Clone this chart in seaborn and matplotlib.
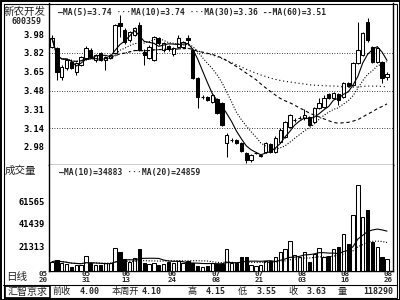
import numpy as np
import pandas as pd
import matplotlib
matplotlib.use("Agg")
import matplotlib.pyplot as plt
from matplotlib.lines import Line2D
from matplotlib.patches import Rectangle
import seaborn as sns

# ---------------- data ----------------
opens = [3.87, 3.86, 3.605, 3.68, 3.74, 3.65, 3.71, 3.77, 3.845, 3.755,
         3.815, 3.755, 3.77, 3.82, 4.09, 4.025, 3.935, 3.98, 4.07, 3.83,
         3.77, 3.755, 3.95, 3.845, 3.884, 3.806, 3.875, 3.875, 3.955, 3.845,
         3.593, 3.42, 3.42, 3.38, 3.40, 3.37, 3.01, 3.035, 3.035, 3.01,
         2.92, 2.855, 2.92, 2.89, 2.927, 3.00, 2.93, 3.017, 3.062, 3.152,
         3.215, 3.233, 3.233, 3.242, 3.197, 3.323, 3.332, 3.449, 3.413, 3.449,
         3.422, 3.548, 3.53, 3.728, 3.80, 4.097, 3.872, 3.737, 3.737, 3.60]
closes = [3.95, 3.65, 3.695, 3.755, 3.68, 3.725, 3.785, 3.86, 3.785, 3.80,
          3.755, 3.785, 3.80, 4.07, 4.06, 3.917, 4.01, 4.04, 3.845, 3.80,
          3.875, 3.965, 3.905, 3.905, 3.854, 3.86, 3.95, 3.92, 3.935, 3.593,
          3.422, 3.42, 3.395, 3.44, 3.278, 3.17, 3.08, 3.035, 3.01, 2.936,
          2.855, 2.90, 2.92, 2.90, 3.008, 2.93, 3.053, 3.125, 3.197, 3.26,
          3.215, 3.233, 3.26, 3.17, 3.323, 3.368, 3.413, 3.413, 3.458, 3.395,
          3.548, 3.521, 3.728, 3.845, 3.998, 3.935, 3.737, 3.863, 3.593, 3.63]
highs = [3.98, 3.87, 3.71, 3.77, 3.76, 3.74, 3.79, 3.88, 3.86, 3.81,
         3.83, 3.79, 3.81, 4.08, 4.16, 4.04, 4.02, 4.05, 4.10, 3.85,
         3.89, 3.97, 3.96, 3.92, 3.89, 3.87, 3.98, 3.93, 3.98, 3.85,
         3.60, 3.44, 3.43, 3.45, 3.41, 3.38, 3.10, 3.05, 3.04, 3.02,
         2.93, 2.91, 2.93, 2.91, 3.02, 3.01, 3.07, 3.14, 3.21, 3.27,
         3.23, 3.25, 3.31, 3.25, 3.33, 3.413, 3.44, 3.46, 3.47, 3.46,
         3.56, 3.56, 3.74, 4.097, 4.01, 4.133, 3.88, 3.87, 3.75, 3.65]
lows = [3.86, 3.575, 3.575, 3.665, 3.67, 3.62, 3.70, 3.755, 3.77, 3.74,
        3.745, 3.665, 3.76, 3.81, 3.96, 3.90, 3.92, 3.97, 3.84, 3.71,
        3.76, 3.745, 3.89, 3.83, 3.84, 3.79, 3.86, 3.86, 3.89, 3.58,
        3.32, 3.40, 3.39, 3.37, 3.27, 3.16, 2.88, 3.02, 3.00, 2.93,
        2.83, 2.84, 2.91, 2.88, 2.92, 2.92, 2.92, 3.01, 3.05, 3.14,
        3.20, 3.22, 3.215, 3.16, 3.19, 3.31, 3.32, 3.40, 3.40, 3.35,
        3.41, 3.51, 3.52, 3.72, 3.79, 3.92, 3.73, 3.73, 3.548, 3.575]
volumes = [7800, 9300, 6400, 5800, 3400, 4900, 4500, 12800, 6900, 4900,
           4900, 6400, 6400, 19600, 16100, 9900, 7800, 10800, 19000, 6900,
           5500, 6400, 4900, 5500, 7800, 6400, 8700, 6400, 8400, 6400,
           4000, 3500, 4000, 6600, 5700, 5700, 19000, 6600, 6900, 11700,
           11700, 4900, 4300, 4900, 8700, 8400, 11700, 16700, 18800, 26400,
           13700, 12200, 16300, 7800, 14600, 19700, 11700, 12800, 19000, 20600,
           32300, 23200, 49200, 75800, 47100, 53600, 25500, 20500, 11700, 9900]

date_months = ["05", "05", "06", "06", "07", "07", "08", "08", "08"]
date_days = ["20", "31", "13", "24", "08", "21", "03", "16", "26"]
date_pos = [-1.8, 7.0, 15.2, 24.7, 33.8, 42.6, 51.5, 60.4, 69.2]
price_ticks = [3.98, 3.82, 3.65, 3.48, 3.31, 3.14, 2.98]
price_grid = [3.82, 3.48, 3.14]
vol_ticks = [21313, 41439, 61565]
price_legend = "—MA(5)=3.74 ···MA(10)=3.74 ···MA(30)=3.36 --MA(60)=3.51"
vol_legend = "—MA(10)=34883 ···MA(20)=24859"
status_items = [("前收", 53, "cjk"), ("4.00", 100, "num"), ("本周开", 112, "cjk"),
                ("4.10", 162, "num"), ("高", 188, "cjk"), ("4.15", 226, "num"),
                ("低", 238, "cjk"), ("3.55", 277, "num"), ("收", 288, "cjk"),
                ("3.63", 327, "num"), ("量", 338, "cjk"), ("118290", 393, "num")]

# ---------------- derived ----------------
df = pd.DataFrame({"o": opens, "h": highs, "l": lows, "c": closes, "v": volumes})
df["x"] = np.arange(len(df))
df["up"] = df["c"] >= df["o"]
for w in (5, 10, 30, 60):
    df[f"ma{w}"] = df["c"].rolling(w, min_periods=1).mean()
for w in (10, 20):
    df[f"vma{w}"] = df["v"].rolling(w, min_periods=1).mean()

# ---------------- figure ----------------
sns.set_theme(style="white")
plt.rcParams['font.family'] = ['DejaVu Sans Mono', 'Noto Sans CJK SC']
W, H = 400, 300
fig = plt.figure(figsize=(4, 3), dpi=100, facecolor="white")

def fx(px):
    return px / W

def fy(py):
    return 1 - py / H

L, R = 49, 393
P_TOP, P_BOT, V_BOT = 3, 165, 270.5
ax = fig.add_axes([fx(L), fy(P_BOT), (R - L) / W, (P_BOT - P_TOP) / H])
axv = fig.add_axes([fx(L), fy(V_BOT), (R - L) / W, (V_BOT - P_BOT) / H])

def price_at(py):
    return 3.98 - 0.009 * (py - 35)

x0_px, dx_px = 52, 4.855
xlim = ((L - x0_px) / dx_px, (R - x0_px) / dx_px)

lw = 0.75
# candles
ax.vlines(df["x"], df["l"], df["h"], color="black", lw=lw, zorder=2)
body_lo = np.minimum(df["o"], df["c"])
body_h = np.maximum(np.abs(df["c"] - df["o"]), 0.002)
ax.bar(df["x"], body_h, bottom=body_lo, width=0.68,
       color=np.where(df["up"], "white", "black"), edgecolor="black",
       linewidth=lw, zorder=3)
# moving averages
sns.lineplot(data=df, x="x", y="ma5", ax=ax, color="black", lw=0.8, zorder=4)
sns.lineplot(data=df, x="x", y="ma10", ax=ax, color="black", lw=0.8,
             linestyle=(0, (1, 1.5)), zorder=4)
sns.lineplot(data=df, x="x", y="ma30", ax=ax, color="black", lw=0.8,
             linestyle=(0, (3, 2.5)), zorder=4)
sns.lineplot(data=df, x="x", y="ma60", ax=ax, color="black", lw=0.8,
             linestyle=(0, (1, 2.5)), zorder=4)
for g in price_grid:
    ax.axhline(g, color="black", lw=0.6, linestyle=(0, (1, 2)), zorder=1)

ax.set_xlim(*xlim)
ax.set_ylim(price_at(P_BOT), price_at(P_TOP))
ax.set_yticks(price_ticks)
ax.set_yticklabels([f"{t:.2f}" for t in price_ticks])
ax.set_xticks([])
ax.set_xlabel("")
ax.set_ylabel("")

# volume
axv.bar(df["x"], df["v"], width=0.68,
        color=np.where(df["up"], "white", "black"), edgecolor="black",
        linewidth=lw, zorder=3)
sns.lineplot(data=df, x="x", y="vma10", ax=axv, color="black", lw=0.8, zorder=4)
sns.lineplot(data=df, x="x", y="vma20", ax=axv, color="black", lw=0.8,
             linestyle=(0, (1, 1.5)), zorder=4)
axv.set_xlim(*xlim)
axv.set_ylim(0, (V_BOT - P_BOT) * 886)
axv.set_yticks(vol_ticks)
axv.set_yticklabels([str(t) for t in vol_ticks])
axv.set_xticks([])
axv.set_xlabel("")
axv.set_ylabel("")

for a in (ax, axv):
    a.set_facecolor("white")
    for s in ("left", "right", "bottom"):
        a.spines[s].set_visible(True)
        a.spines[s].set_color("black")
        a.spines[s].set_linewidth(1.0)
    a.spines["top"].set_visible(False)
    a.tick_params(axis="y", length=0, pad=3, labelsize=6.3, colors="black")
    for t in a.get_yticklabels():
        t.set_fontweight("bold")
        t.set_family("DejaVu Sans Mono")

# date labels: month row and day row under the volume panel
xt = axv.get_xaxis_transform()
for pos, mo, dd in zip(date_pos, date_months, date_days):
    axv.text(pos, -(273.8 - V_BOT) / (V_BOT - P_BOT), mo, transform=xt,
             ha="center", va="center", fontsize=5.4, fontweight="bold",
             family="DejaVu Sans Mono", clip_on=False)
    axv.text(pos, -(280.3 - V_BOT) / (V_BOT - P_BOT), dd, transform=xt,
             ha="center", va="center", fontsize=5.4, fontweight="bold",
             family="DejaVu Sans Mono", clip_on=False)

# legends
fig.text(fx(58), fy(13), price_legend, fontsize=5.8, fontweight="bold",
         family="DejaVu Sans Mono", va="center", ha="left")
fig.text(fx(59), fy(172), vol_legend, fontsize=5.8, fontweight="bold",
         family="DejaVu Sans Mono", va="center", ha="left")

# left labels
cjk = ["Noto Sans CJK SC", "DejaVu Sans"]
fig.text(fx(4), fy(12), "新农开发", fontsize=7.6, family=cjk, va="center", ha="left",
         color="#222222")
fig.text(fx(27), fy(22), "600359", fontsize=6.0, fontweight="bold",
         family="DejaVu Sans Mono", va="center", ha="center")
fig.text(fx(5), fy(171), "成交量", fontsize=7.6, family=cjk, va="center", ha="left",
         color="#222222")
fig.text(fx(6), fy(277), "日线", fontsize=7.6, family=cjk, va="center", ha="left",
         color="#222222")

# status bar
fig.add_artist(Line2D([fx(3), fx(396)], [fy(285), fy(285)], color="black",
                      lw=0.8, transform=fig.transFigure))
fig.add_artist(Rectangle((fx(5), fy(297.5)), 45 / W, 11.5 / H, fill=False,
                         edgecolor="black", lw=1.2, transform=fig.transFigure))
fig.text(fx(27.5), fy(291.5), "汇智京求", fontsize=7.2, family=cjk, va="center",
         ha="center", color="#222222")
for txt, px, kind in status_items:
    if kind == "cjk":
        fig.text(fx(px), fy(291.5), txt, fontsize=6.6, family=cjk, va="center",
                 ha="left", color="#222222")
    else:
        fig.text(fx(px), fy(291.5), txt, fontsize=6.0, fontweight="bold",
                 family="DejaVu Sans Mono", va="center", ha="right")

# outer double frame
fig.add_artist(Rectangle((0.5 / W, 0.5 / H), (W - 1) / W, (H - 1) / H, fill=False,
                         edgecolor="black", lw=1.4, transform=fig.transFigure))
fig.add_artist(Rectangle((3.5 / W, 2.5 / H), (W - 7) / W, (H - 6) / H, fill=False,
                         edgecolor="black", lw=0.8, transform=fig.transFigure))

fig.savefig("out.png", dpi=100, facecolor="white")
